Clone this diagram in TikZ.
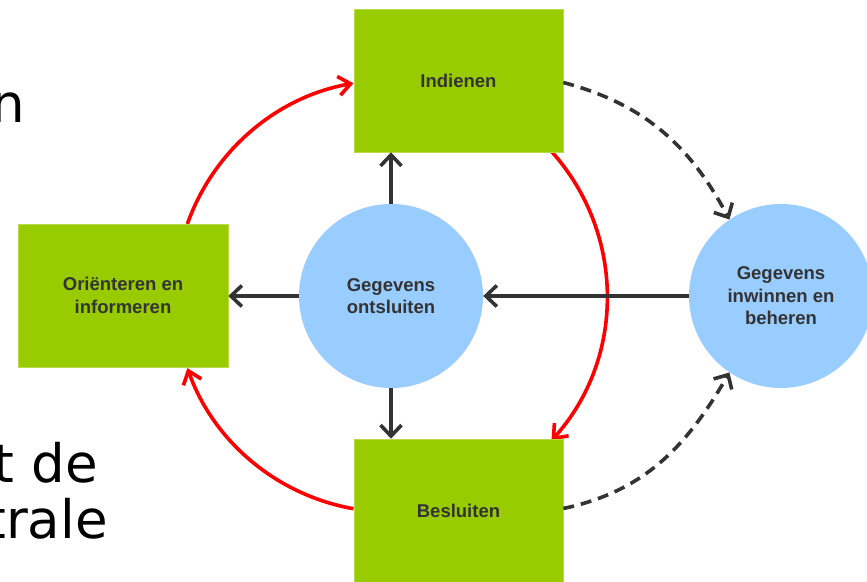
\documentclass[tikz,border=0pt]{standalone}
\usepackage{fontspec}
\setmainfont{Liberation Sans}
\newfontfamily\slidefont{DejaVu Sans}
\usetikzlibrary{arrows.meta}
\definecolor{boxgreen}{HTML}{99CC00}
\definecolor{circblue}{HTML}{99CCFF}
\definecolor{darkline}{HTML}{333333}
\definecolor{txtgray}{HTML}{333333}
\definecolor{cycred}{HTML}{FF0000}
\begin{document}
\begin{tikzpicture}[x=1pt,y=1pt,
  stepbox/.style={fill=boxgreen, draw=boxgreen!70!white, line width=0.6pt,
    minimum width=209pt, minimum height=143pt, inner sep=0pt, align=center,
    font=\fontsize{18.5}{22.5}\selectfont\bfseries, text=txtgray},
  roundnode/.style={circle, fill=circblue, minimum size=184pt, inner sep=0pt,
    align=center, font=\fontsize{18.5}{22.5}\selectfont\bfseries, text=txtgray},
  darrow/.style={draw=darkline, line width=3.6pt,
    -{Straight Barb[length=11pt,width=21pt,line width=3.6pt]}},
  dasharrow/.style={darrow, dash pattern=on 11pt off 7pt},
  redarrow/.style={draw=cycred, line width=3.6pt,
    -{Straight Barb[length=12pt,width=19pt,line width=3.6pt]}},
  slidetext/.style={font=\slidefont\fontsize{53}{63}\selectfont, anchor=base east,
    inner sep=0pt, text=black}
]
\useasboundingbox (0,0) rectangle (867,581);
\clip (0,0) rectangle (867,581);

% slide text fragments at the left edge
\node[slidetext] (s1) at (25,458) {n};
\node[slidetext] (s2) at (98,98) {t de};
\node[slidetext] (s3) at (108,43) {trale};

\coordinate (C) at (391,285);

% red cycle arcs (drawn first, boxes cover their starts)
\draw[redarrow] ([shift={(160.5:216pt)}]C) arc[start angle=160.5, end angle=100, radius=216pt];
\draw[redarrow] ([shift={(42:216pt)}]C) arc[start angle=42, end angle=-42, radius=216pt];
\draw[redarrow] ([shift={(260:216pt)}]C) arc[start angle=260, end angle=199.5, radius=216pt];

% nodes
\node[stepbox] (ind) at (458.5,500.5) {Indienen};
\node[stepbox, minimum width=210pt] (ori) at (123,285.5) {Oriënteren en\\informeren};
\node[stepbox] (bes) at (458.5,70.5) {Besluiten};
\node[roundnode] (ont) at (391,285) {Gegevens\\ontsluiten};
\node[roundnode] (inw) at (781,285) {Gegevens\\inwinnen en\\beheren};

% dark arrows
\draw[darrow] (ont.north) -- (ont.north |- ind.south);
\draw[darrow] (ont.west) -- (ont.west -| ori.east);
\draw[darrow] (ont.south) -- (ont.south |- bes.north);
\draw[darrow] (inw.west) -- (ont.east);

% dashed arrows
\draw[dasharrow] ([yshift=-2pt]ind.east) to[out=-15, in=118] (inw.124);
\draw[dasharrow] ([yshift=2pt]bes.east) to[out=12, in=-120] (inw.236);
\end{tikzpicture}
\end{document}
